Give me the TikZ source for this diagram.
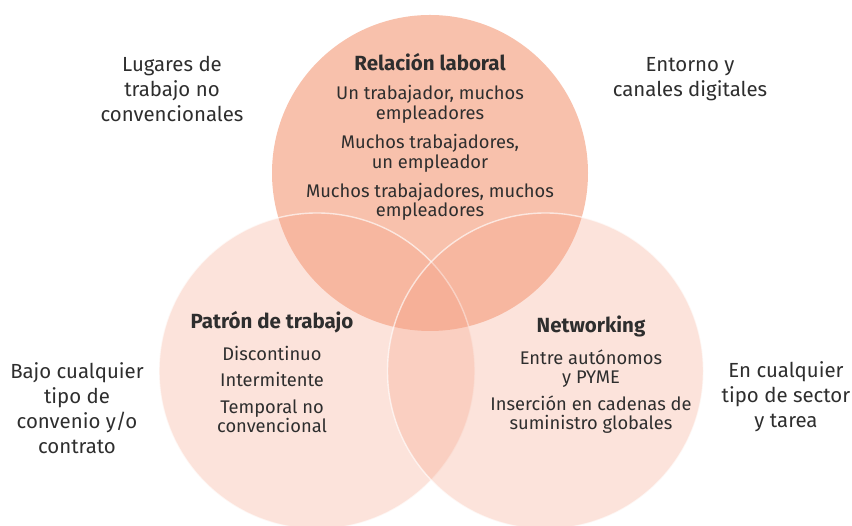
\documentclass[tikz,border=0pt]{standalone}
\usepackage{fontspec}
\setmainfont{Fira Sans}
\usepackage{tikz}
\usetikzlibrary{positioning}
\definecolor{topfill}{HTML}{F8C1AC}
\definecolor{lowfill}{HTML}{F5A287}
\definecolor{ink}{HTML}{2E2E2E}

\begin{document}
\begin{tikzpicture}[x=1pt,y=1pt,
		bubble/.style={circle,inner sep=0pt,minimum size=316pt},
		upper/.style={bubble,fill=topfill},
		lower/.style={bubble,fill=lowfill,fill opacity=0.3,draw=white,draw opacity=0.65,line width=1.4pt},
		heading/.style={anchor=base,inner sep=0pt,text=ink,font=\fontsize{20.5}{22}\selectfont\bfseries},
		body/.style={anchor=base,inner sep=0pt,align=center,text=ink,font=\fontsize{18.3}{19.6}\selectfont},
		aside/.style={anchor=base,inner sep=0pt,align=center,text=ink,font=\fontsize{20.4}{25.2}\selectfont}]
		\useasboundingbox (0,0) rectangle (852,526);
		
		% circles
		\node[upper] (rel) at (430,353) {};
		\node[lower] (pat) at (317,155) {};
		\node[lower] (net) at (545.5,155) {};
		
		% text inside the circles (base = last line)
		\node[heading] (reltitle) at (430,455) {Relación laboral};
		\node[body]    (relbody)  at (430,309) {Un trabajador, muchos\\empleadores\\[9.5pt]Muchos trabajadores,\\un empleador\\[9.5pt]Muchos trabajadores, muchos\\empleadores};
		\node[heading] (pattitle) at (272,197) {Patrón de trabajo};
		\node[body]    (patbody)  at (272,93)  {Discontinuo\\[7pt]Intermitente\\[7pt]Temporal no\\convencional};
		\node[heading] (nettitle) at (591,193) {Networking};
		\node[body]    (netbody)  at (591,96)  {Entre autónomos\\y PYME\\[7pt]Inserción en cadenas de\\suministro globales};
		
		% text outside
		\node[aside] (lugares) at (172,404) {Lugares de\\trabajo no\\convencionales};
		\node[aside] (entorno) at (690,429) {Entorno y\\canales digitales};
		\node[aside] (bajo)    at (77,72)   {Bajo cualquier\\tipo de\\convenio y/o\\contrato};
		\node[aside] (sector)  at (786,98)  {En cualquier\\tipo de sector\\y tarea};
\end{tikzpicture}
\end{document}
